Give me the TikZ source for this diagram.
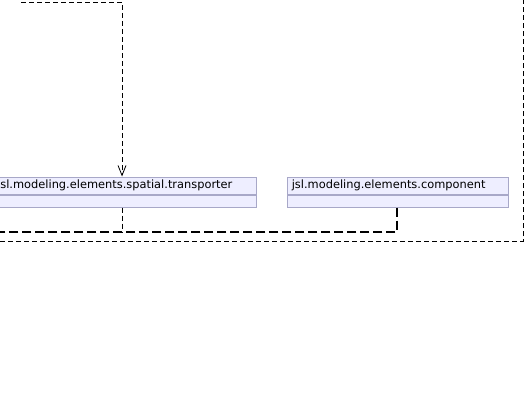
\documentclass[tikz,border=0pt]{standalone}
\usepackage{fontspec}
\usepackage{tikz}
\usetikzlibrary{
    arrows.meta,
    positioning
}
\newfontfamily\classfont{DejaVu Sans}
\definecolor{classfill}{RGB}{238,238,255}
\definecolor{classline}{RGB}{168,168,200}
\tikzset{
    classhead/.style={
        draw=classline,
        rectangle,
        fill=classfill,
        minimum height=17.5pt,
        inner xsep=5pt,
        inner ysep=0pt,
        align=left,
        line width=0.6pt,
        font=\classfont\fontsize{11.4}{13}\selectfont
    },
    classbody/.style={
        draw=classline,
        rectangle,
        fill=classfill,
        minimum height=12.5pt,
        inner sep=0pt,
        line width=0.6pt
    },
    thindep/.style={
        line width=0.8pt,
        dash pattern=on 5pt off 3pt
    },
    thickdep/.style={
        line width=1.7pt,
        dash pattern=on 9pt off 4pt
    },
    arr/.style={
        -{Straight Barb[length=10pt,width=8pt,line width=0.8pt]}
    }
}

\begin{document}
\begin{tikzpicture}[x=1pt, y=-1pt]

\useasboundingbox (0,0) rectangle (526,404);
\clip (0,0) rectangle (526,404);

\node[classhead, text width=254pt, anchor=north east] (trans) at (256.5,176.5) {jsl.modeling.elements.spatial.transporter};
\node[classbody, minimum width=264pt, below=0pt of trans] (trans-body) {};
\node[classhead, text width=211pt, right=30pt of trans] (comp) {jsl.modeling.elements.component};
\node[classbody, minimum width=221pt, below=0pt of comp] (comp-body) {};

\coordinate (src) at (21,2);
\coordinate (tx) at (122,2);
\coordinate (cx) at (397,0);
\coordinate (bus) at (0,232);
\coordinate (loop) at (0,241);
\coordinate (rx) at (523,0);

\draw[thindep, arr] (src) -- (tx) -- (tx |- trans.north);
\draw[thindep] (tx |- trans-body.south) -- (tx |- bus);
\draw[thickdep] (cx |- comp-body.south) |- (bus);
\draw[thindep] (loop) -| (rx);

\end{tikzpicture}
\end{document}
